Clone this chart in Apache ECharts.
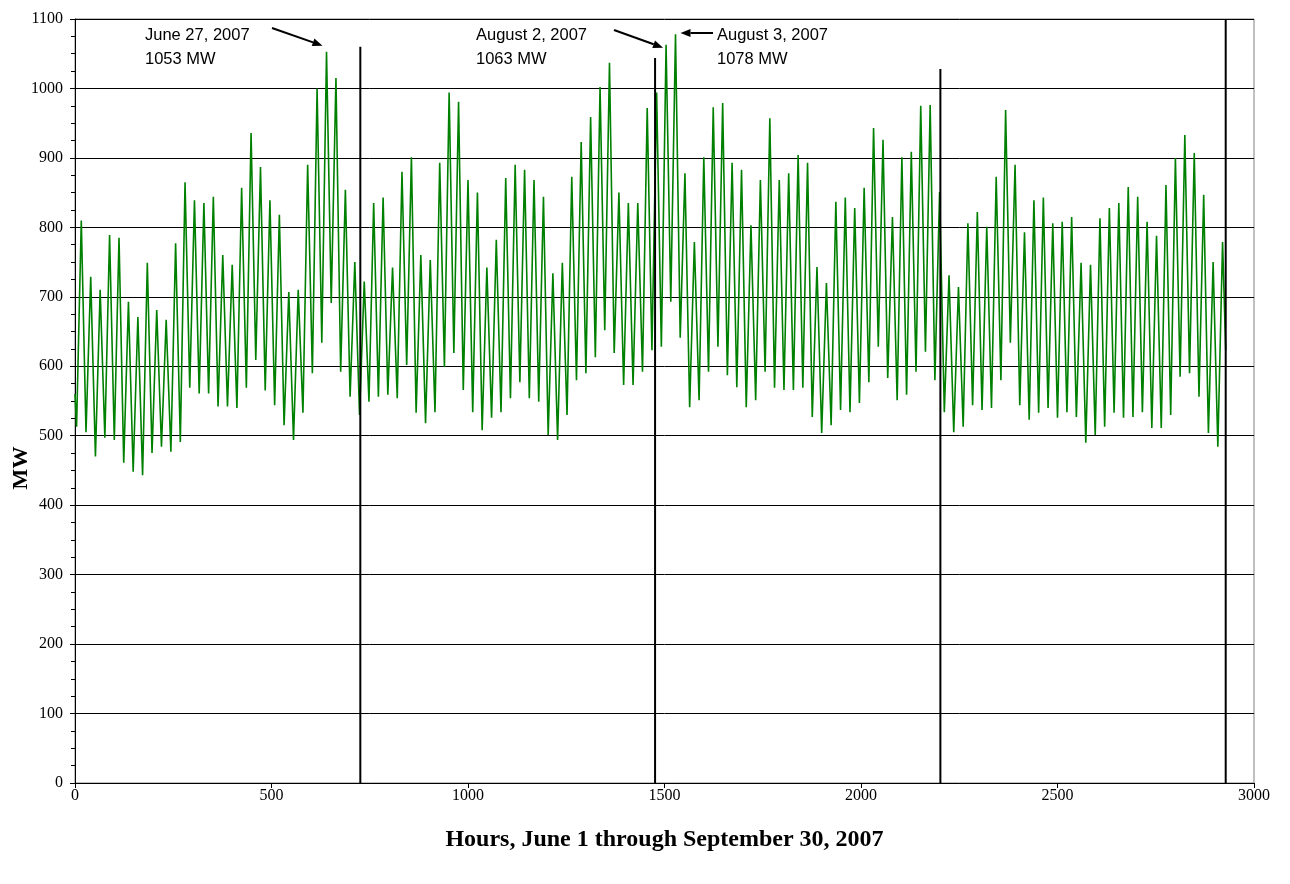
<!DOCTYPE html>
<html>
<head>
<meta charset="utf-8">
<script src="https://cdn.jsdelivr.net/npm/echarts@6/dist/echarts.min.js"></script>
<style>
  html, body { margin: 0; padding: 0; background: #fff; }
  #chart { width: 1290px; height: 884px; }
</style>
</head>
<body>
<div id="chart"></div>
<script>
// Daily peak loads (MW), June 1 .. September 30, 2007 (one value per day)
const dailyPeaks = [
  810, 729, 710, 789, 785, 693, 671, 749, 681, 667,
  777, 865, 839, 835, 844, 760, 746, 857, 936, 887,
  839, 818, 707, 710, 890, 1000, 1053, 1015, 854, 750,
  722, 835, 843, 742, 880, 901, 760, 753, 893, 994,
  981, 868, 850, 742, 782, 871, 890, 883, 868, 844,
  734, 749, 873, 923, 959, 1002, 1037, 850, 835, 835,
  972, 994, 1063, 1078, 878, 779, 901, 973, 979, 893,
  883, 803, 868, 957, 868, 878, 904, 893, 743, 720,
  837, 843, 828, 857, 943, 926, 815, 901, 909, 975,
  976, 851, 731, 714, 806, 822, 801, 873, 969, 890,
  793, 839, 843, 806, 808, 815, 749, 746, 813, 828,
  835, 858, 844, 808, 788, 861, 900, 933, 907, 847,
  750, 779
];
// Daily early-morning minimum loads (MW)
const dailyTroughs = [
  513, 505, 470, 497, 494, 461, 448, 443, 475, 484,
  477, 491, 569, 561, 561, 542, 542, 540, 569, 609,
  565, 544, 515, 494, 533, 590, 634, 691, 592, 556,
  530, 549, 556, 559, 554, 602, 533, 518, 534, 599,
  619, 566, 534, 508, 526, 534, 554, 577, 554, 549,
  501, 494, 530, 580, 590, 613, 652, 619, 573, 573,
  592, 623, 628, 693, 641, 541, 551, 592, 628, 587,
  570, 541, 551, 592, 569, 566, 566, 569, 527, 504,
  515, 537, 534, 547, 577, 628, 583, 551, 559, 592,
  621, 580, 534, 505, 513, 544, 537, 540, 580, 634,
  544, 523, 533, 540, 526, 534, 527, 490, 501, 513,
  533, 526, 527, 534, 511, 511, 530, 585, 590, 556,
  504, 484
];
const troughHour = 4;     // hour of day of the morning minimum
const peakHour = 16;      // hour of day of the afternoon peak
const startValue = 560;   // load at hour 0
const endValue = 623;     // load at the last hour
const lastHour = 2928;

// Month boundary markers (hours) and their drawn heights (MW)
const boundaryHours = [726, 1476, 2202, 2928];
const boundaryTops = [1060, 1044, 1028, 1100];

// Annotated peaks
const annoLabels = ['June 27, 2007', 'August 2, 2007', 'August 3, 2007'];
const annoValues = ['1053 MW', '1063 MW', '1078 MW'];
const annoDays = [26, 62, 63];

const xTicks = [0, 500, 1000, 1500, 2000, 2500, 3000];
const yTicks = [0, 100, 200, 300, 400, 500, 600, 700, 800, 900, 1000, 1100];

// Build series points
const loadPoints = [[0, startValue]];
for (let d = 0; d < dailyPeaks.length; d++) {
  loadPoints.push([24 * d + troughHour, dailyTroughs[d]]);
  loadPoints.push([24 * d + peakHour, dailyPeaks[d]]);
}
loadPoints.push([lastHour, endValue]);

const boundaryPoints = [];
boundaryHours.forEach((h, i) => {
  boundaryPoints.push([h, 0]);
  boundaryPoints.push([h, boundaryTops[i]]);
  boundaryPoints.push([h, null]);
});

const chart = echarts.init(document.getElementById('chart'), null, { renderer: 'canvas' });
const serif = '"Liberation Serif", "Times New Roman", serif';
const sans = '"Liberation Sans", Arial, sans-serif';

chart.setOption({
  animation: false,
  backgroundColor: '#ffffff',
  grid: {
    left: 75, right: 36, top: 19, bottom: 101,
    containLabel: false, outerBoundsMode: 'none',
    show: true, borderColor: '#808080', borderWidth: 1, backgroundColor: 'transparent'
  },
  xAxis: {
    type: 'value',
    min: xTicks[0], max: xTicks[xTicks.length - 1], interval: 500,
    name: 'Hours, June 1 through September 30, 2007',
    nameLocation: 'middle', nameGap: 45,
    nameTextStyle: { fontFamily: serif, fontWeight: 'bold', fontSize: 24, color: '#000' },
    axisLine: { lineStyle: { color: '#000', width: 1 } },
    axisTick: { show: true, inside: false, length: 5, lineStyle: { color: '#000' } },
    axisLabel: { fontFamily: serif, fontSize: 16, color: '#000', margin: 5, formatter: v => String(v) },
    splitLine: { show: false }
  },
  yAxis: {
    type: 'value',
    min: yTicks[0], max: yTicks[yTicks.length - 1], interval: 100,
    axisLine: { show: true, lineStyle: { color: '#000', width: 1 } },
    axisTick: { show: true, length: 5, lineStyle: { color: '#000' } },
    minorTick: { show: true, splitNumber: 4, length: 4, lineStyle: { color: '#000' } },
    axisLabel: { fontFamily: serif, fontSize: 16, color: '#000', margin: 12, formatter: v => String(v) },
    splitLine: { show: true, lineStyle: { color: '#000', width: 1 } }
  },
  series: [
    {
      type: 'line',
      data: loadPoints,
      showSymbol: false,
      symbol: 'none',
      sampling: null,
      lineStyle: { color: '#008000', width: 1.6 },
      z: 3
    },
    {
      type: 'line',
      data: boundaryPoints,
      showSymbol: false,
      symbol: 'none',
      connectNulls: false,
      lineStyle: { color: '#000', width: 2 },
      z: 4
    }
  ]
});

// Annotations: text + arrows pointing at the annotated peaks
function px(h, v) { return chart.convertToPixel({ gridIndex: 0 }, [h, v]); }
function arrow(x1, y1, x2, y2) {
  const ang = Math.atan2(y2 - y1, x2 - x1);
  const L = 10, W = 4;
  const bx = x2 - L * Math.cos(ang), by = y2 - L * Math.sin(ang);
  const nx = -Math.sin(ang), ny = Math.cos(ang);
  return [
    { type: 'line', shape: { x1: x1, y1: y1, x2: bx, y2: by }, style: { stroke: '#000', lineWidth: 2 }, z: 10 },
    { type: 'polygon', shape: { points: [[x2, y2], [bx + nx * W, by + ny * W], [bx - nx * W, by - ny * W]] },
      style: { fill: '#000' }, z: 10 }
  ];
}
const textPos = [[145, 23], [476, 23], [717, 23]];
const arrowTails = [[272, 28], [614, 30], [713, 33]];
const tipOffsets = [[-4, -6], [-3, 3], [5, 0]];
const g = [];
annoDays.forEach((d, i) => {
  const p = px(24 * d + peakHour, dailyPeaks[d]);
  g.push({ type: 'text', x: textPos[i][0], y: textPos[i][1], z: 10,
    style: { text: annoLabels[i] + '\n' + annoValues[i], fontFamily: sans, fontSize: 16.5, fill: '#000', lineHeight: 24 } });
  const tip = [p[0] + tipOffsets[i][0], i === 2 ? arrowTails[i][1] : p[1] + tipOffsets[i][1]];
  g.push(...arrow(arrowTails[i][0], arrowTails[i][1], tip[0], tip[1]));
});
// Y axis title
g.push({ type: 'text', x: 21, y: 468, rotation: Math.PI / 2, z: 10,
  style: { text: 'MW', fontFamily: serif, fontWeight: 'bold', fontSize: 22, fill: '#000', align: 'center', verticalAlign: 'middle' } });
chart.setOption({ graphic: g });
</script>
</body>
</html>
